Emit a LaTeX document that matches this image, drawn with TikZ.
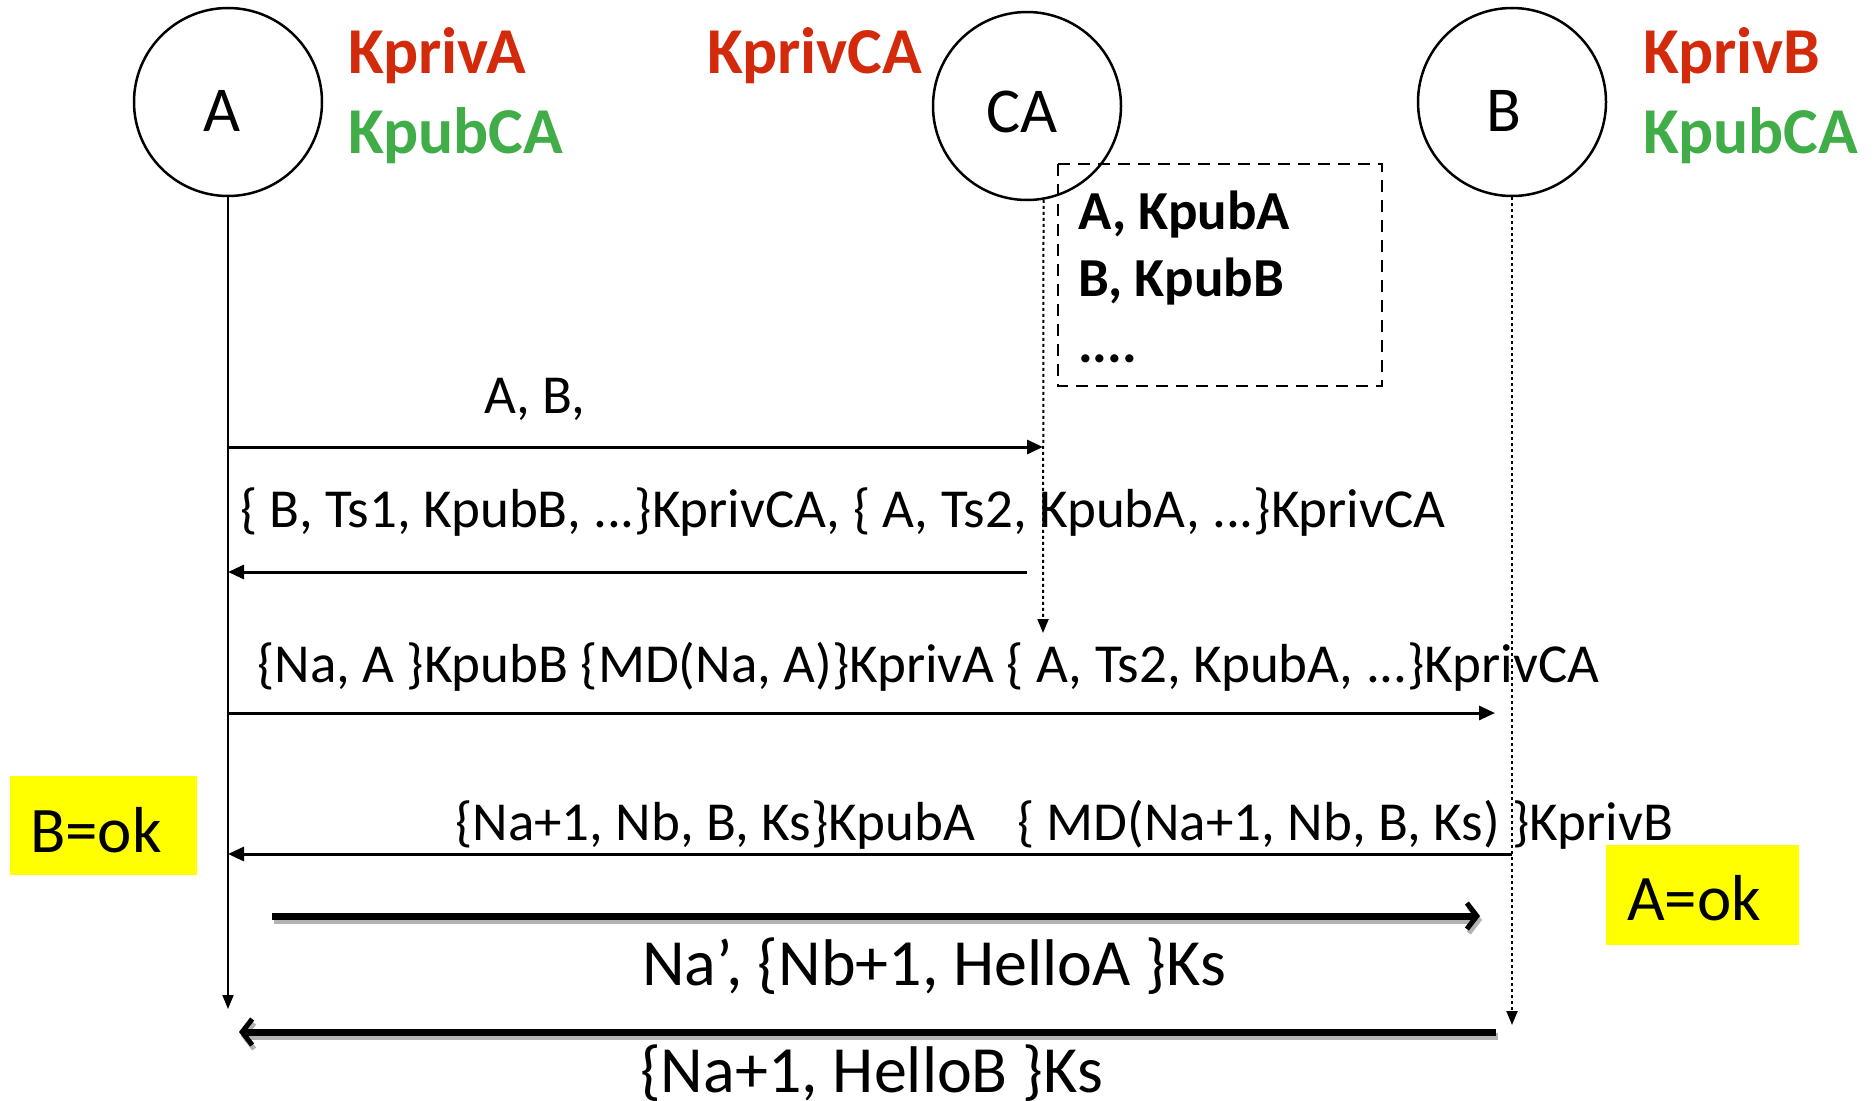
\documentclass[tikz,border=0pt]{standalone}
\usepackage{fontspec}
\setmainfont{Carlito}
\usetikzlibrary{arrows.meta}
\definecolor{keyred}{HTML}{D42A0C}
\definecolor{keygreen}{HTML}{41AD49}
\definecolor{okyellow}{HTML}{FFFF00}

\begin{document}
\begin{tikzpicture}[x=1pt,y=-1pt,
  party/.style={circle,draw,line width=2.5pt,minimum size=188pt,inner sep=0pt},
  partyname/.style={inner sep=0pt,font=\fontsize{64}{64}\selectfont},
  keytxt/.style={anchor=base west,inner sep=0pt,font=\bfseries\fontsize{65.5}{66}\selectfont},
  dirtxt/.style={anchor=base west,inner sep=0pt,font=\bfseries\fontsize{55}{55}\selectfont},
  msgtxt/.style={anchor=base west,inner sep=0pt,font=\fontsize{55}{55}\selectfont},
  bigtxt/.style={anchor=base west,inner sep=0pt,font=\fontsize{66}{66}\selectfont},
  oktxt/.style={anchor=base west,inner sep=0pt,font=\fontsize{65}{65}\selectfont},
  okbox/.style={fill=okyellow,draw=none},
  lifeline/.style={line width=2pt,-{Triangle[length=14pt,width=11pt]}},
  dotline/.style={line width=2pt,dash pattern=on 3pt off 3pt,-{Triangle[length=14pt,width=11pt]}},
  msg/.style={line width=3pt,-{Triangle[length=16pt,width=14pt]}},
  bigmsg/.style={line width=7pt,-{Straight Barb[length=10pt,width=26pt,line width=5pt]}},
  bigshadow/.style={line width=7pt,black!30,-{Straight Barb[length=10pt,width=26pt,line width=5pt]}},
]
\useasboundingbox (0,0) rectangle (1876,1100);

% parties
\node[party] (A)  at (228,102) {};
\node[party] (CA) at (1027,106) {};
\node[party] (B)  at (1512,102) {};
\node[partyname] (An)  at ([shift={(-6,9)}]A.center)  {A};
\node[partyname] (CAn) at ([shift={(-5,6)}]CA.center) {CA};
\node[partyname] (Bn)  at ([shift={(-8,9)}]B.center)  {B};

% keys held by each party
\node[keytxt,text=keyred]   (kA)   at (348,73)  {KprivA};
\node[keytxt,text=keygreen] (kAca) at (348,153) {KpubCA};
\node[keytxt,text=keyred]   (kCA)  at (707,73)  {KprivCA};
\node[keytxt,text=keyred]   (kB)   at (1643,73) {KprivB};
\node[keytxt,text=keygreen] (kBca) at (1643,153){KpubCA};

% CA directory
\draw[line width=2.5pt,dash pattern=on 12pt off 8pt] (1058,164) rectangle (1382,386);
\node[dirtxt] (d1) at (1078,229) {A, KpubA};
\node[dirtxt] (d2) at (1078,296) {B, KpubB};
\node[dirtxt] (d3) at (1078,362) {....};

% lifelines
\coordinate (Aend)  at (228,1009);
\coordinate (CAend) at (1043,633);
\coordinate (Bend)  at (1512,1025);
\draw[lifeline] (A.south) -- (Aend);
\draw[dotline] (CA.-80) -- (CAend);
\draw[dotline] (B.south) -- (Bend);

% message 1
\coordinate (m1s) at (228,447);
\coordinate (m1e) at (1043,447);
\draw[msg] (m1s) -- (m1e);
\node[msgtxt] (l1) at (484,413) {A, B,};

% message 2
\coordinate (m2s) at (1027,572);
\coordinate (m2e) at (228,572);
\draw[msg] (m2s) -- (m2e);
\node[msgtxt] (l2) at (240,527) {\{ B, Ts1, KpubB, ...\}KprivCA, \{ A, Ts2, KpubA, ...\}KprivCA};

% message 3
\coordinate (m3s) at (228,713);
\coordinate (m3e) at (1495,713);
\draw[msg] (m3s) -- (m3e);
\node[msgtxt] (l3) at (257,682) {\{Na, A \}KpubB \{MD(Na, A)\}KprivA \{ A, Ts2, KpubA, ...\}KprivCA};

% message 4
\coordinate (m4s) at (1512,854);
\coordinate (m4e) at (228,854);
\draw[msg] (m4s) -- (m4e);
\node[msgtxt] (l4) at (455,840) {\{Na+1, Nb, B, Ks\}KpubA\hspace{30pt} \{ MD(Na+1, Nb, B, Ks) \}KprivB};

% verification results
\node[okbox,minimum width=187pt,minimum height=99pt,inner sep=0pt] (okB) at (103,825.5) {};
\node[oktxt] (okBt) at (30,852) {B=ok};
\node[okbox,minimum width=193pt,minimum height=100pt,inner sep=0pt] (okA) at (1702,895) {};
\node[oktxt] (okAt) at (1627,920) {A=ok};

% session messages
\coordinate (m5s) at (272,916);
\coordinate (m5e) at (1480,916);
\draw[bigshadow] ([shift={(2,4)}]m5s) -- ([shift={(2,4)}]m5e);
\draw[bigmsg] (m5s) -- (m5e);
\node[bigtxt] (l5) at (642,985) {Na’, \{Nb+1, HelloA \}Ks};

\coordinate (m6s) at (1496,1032);
\coordinate (m6e) at (239,1032);
\draw[bigshadow] ([shift={(2,4)}]m6s) -- ([shift={(2,4)}]m6e);
\draw[bigmsg] (m6s) -- (m6e);
\node[bigtxt] (l6) at (640,1092) {\{Na+1, HelloB \}Ks};
\end{tikzpicture}
\end{document}
